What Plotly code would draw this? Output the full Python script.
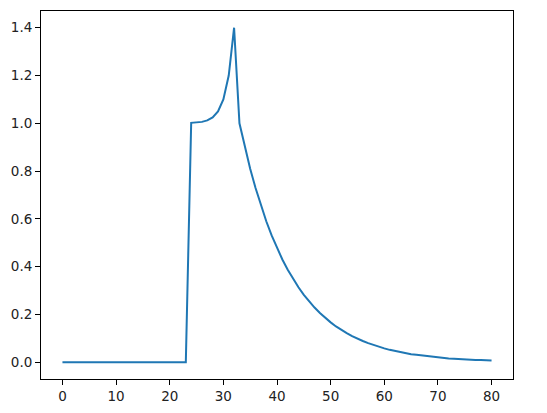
import plotly.graph_objects as go

# x positions 0..80
steps = list(range(0, 81))

# flat part before the jump (x=0..23)
baseline = [0.0] * 24
# rise from x=24 up to the peak at x=32
rise = [1.002, 1.003, 1.006, 1.012, 1.025, 1.05, 1.1, 1.2, 1.4]
# decay from x=33 to x=80
decay = [1.0, 0.9, 0.81, 0.729, 0.656, 0.59, 0.531, 0.478, 0.43, 0.387,
         0.349, 0.314, 0.282, 0.254, 0.229, 0.206, 0.185, 0.167, 0.15, 0.135,
         0.122, 0.109, 0.098, 0.089, 0.08, 0.072, 0.065, 0.058, 0.052, 0.047,
         0.042, 0.038, 0.034, 0.031, 0.028, 0.025, 0.023, 0.02, 0.018, 0.016,
         0.015, 0.013, 0.012, 0.011, 0.01, 0.009, 0.008, 0.007]

values = baseline + rise + decay

fig = go.Figure()
fig.add_trace(go.Scatter(x=steps, y=values, mode='lines',
                         line=dict(color='#1f77b4', width=2)))

axis_style = dict(showline=True, linecolor='black', linewidth=1, mirror=True,
                  showgrid=False, zeroline=False, ticks='outside', ticklen=5,
                  tickwidth=1, tickcolor='black', automargin=False,
                  tickfont=dict(family='DejaVu Sans', size=13.5, color='#222'))

fig.update_layout(width=547, height=413,
                  margin=dict(l=41, r=34, t=11, b=34),
                  paper_bgcolor='white', plot_bgcolor='white',
                  showlegend=False,
                  xaxis=dict(range=[-4, 84], tickvals=[0, 10, 20, 30, 40, 50, 60, 70, 80], **axis_style),
                  yaxis=dict(range=[-0.07, 1.47], tickvals=[0, 0.2, 0.4, 0.6, 0.8, 1.0, 1.2, 1.4],
                             tickformat='.1f', **axis_style))

# page body has a default 8px margin, drop it so the figure sits at the corner
fig.write_html("out.html", config={'displayModeBar': False},
               post_script="document.body.style.margin='0';")
